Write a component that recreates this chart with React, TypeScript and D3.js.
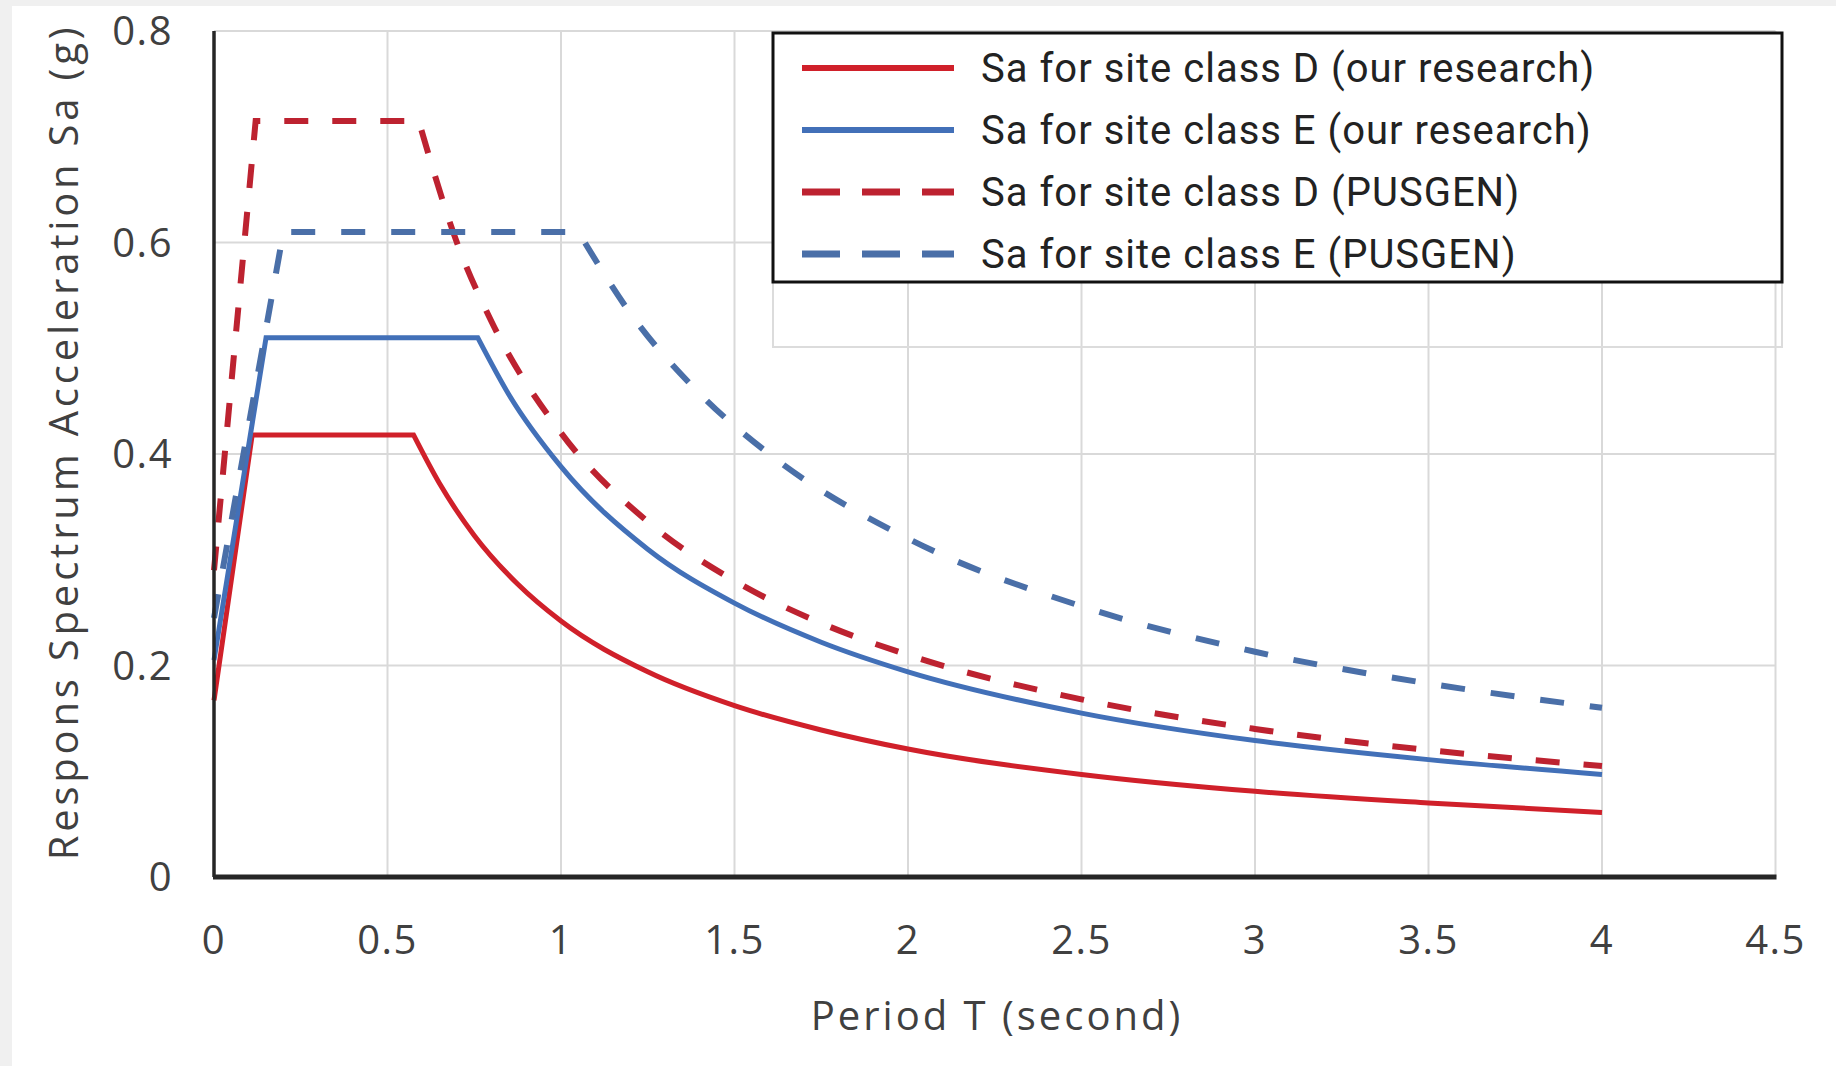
import React from 'react';
import * as d3 from 'd3';

// periods (s) and spectral accelerations (g)
const periodDOur = [0, 0.11, 0.575, 0.65, 0.75, 0.875, 1, 1.25, 1.5, 1.75, 2, 2.5, 3, 3.5, 4];
const saDOur = [0.167, 0.418, 0.418, 0.372, 0.323, 0.277, 0.242, 0.194, 0.162, 0.139, 0.121, 0.097, 0.081, 0.07, 0.061];

const periodEOur = [0, 0.15, 0.76, 0.85, 1, 1.25, 1.5, 1.75, 2, 2.5, 3, 3.5, 4];
const saEOur = [0.205, 0.51, 0.51, 0.456, 0.388, 0.31, 0.259, 0.222, 0.194, 0.155, 0.129, 0.111, 0.097];

const periodDPus = [0, 0.12, 0.59, 0.7, 0.8, 1, 1.25, 1.5, 1.75, 2, 2.5, 3, 3.5, 4];
const saDPus = [0.29, 0.715, 0.715, 0.6, 0.525, 0.42, 0.336, 0.28, 0.24, 0.21, 0.168, 0.14, 0.12, 0.105];

const periodEPus = [0, 0.2, 1.05, 1.2, 1.4, 1.6, 2, 2.5, 3, 3.5, 4];
const saEPus = [0.245, 0.61, 0.61, 0.533, 0.457, 0.4, 0.32, 0.256, 0.213, 0.183, 0.16];

const xTicks = [0, 0.5, 1, 1.5, 2, 2.5, 3, 3.5, 4, 4.5];
const yTicks = [0, 0.2, 0.4, 0.6, 0.8];

const seriesNames = [
  'Sa for site class D (our research)',
  'Sa for site class E (our research)',
  'Sa for site class D (PUSGEN)',
  'Sa for site class E (PUSGEN)',
];

const W = 1836, H = 1066;
const left = 214, right = 1775.5, top = 31, bottom = 877;

const series = [
  { name: seriesNames[0], t: periodDOur, sa: saDOur, color: '#d0202a', dash: null, width: 5 },
  { name: seriesNames[1], t: periodEOur, sa: saEOur, color: '#4270b8', dash: null, width: 5 },
  { name: seriesNames[2], t: periodDPus, sa: saDPus, color: '#bd2230', dash: '24 24', width: 6 },
  { name: seriesNames[3], t: periodEPus, sa: saEPus, color: '#4a6fa8', dash: '24 26', width: 6 },
];

export default function App() {
  const x = d3.scaleLinear().domain([0, 4.5]).range([left, right]);
  const y = d3.scaleLinear().domain([0, 0.8]).range([bottom, top]);

  // ramp + plateau are straight, the descending branch is smooth
  const straight = d3.line<[number, number]>().x(d => x(d[0])).y(d => y(d[1]));
  const smooth = d3.line<[number, number]>().x(d => x(d[0])).y(d => y(d[1])).curve(d3.curveMonotoneX);

  const pathFor = (t: number[], sa: number[]) => {
    const pts = t.map((v, i) => [v, sa[i]] as [number, number]);
    const a = straight(pts.slice(0, 3)) || '';
    const b = (smooth(pts.slice(2)) || '').replace(/^M[^A-Za-z]*/, '');
    return a + b;
  };

  const fmt = (v: number) => (v === 0 ? '0' : String(v));

  // legend placement
  const lg = { x: 773, y: 33, w: 1009, h: 249 };
  const rowY = [68, 130, 192, 254];

  return (
    <div style={{ position: 'fixed', left: 0, top: 0 }}>
      <svg width={W} height={H} style={{ display: 'block' }}>
        <rect x={0} y={0} width={W} height={H} fill="#f0f0f0" />
        <rect x={12} y={6} width={W - 12} height={H - 6} fill="#ffffff" />

        {/* grid */}
        {xTicks.slice(1).map(t => (
          <line key={'gx' + t} x1={x(t)} x2={x(t)} y1={top} y2={bottom} stroke="#d9d9d9" strokeWidth={2} />
        ))}
        {yTicks.slice(1).map(t => (
          <line key={'gy' + t} x1={left} x2={right} y1={y(t)} y2={y(t)} stroke="#d9d9d9" strokeWidth={2} />
        ))}

        {/* faint frame left under the legend */}
        <rect x={lg.x} y={lg.y} width={lg.w} height={314} fill="none" stroke="#dcdcdc" strokeWidth={2} />

        {/* curves */}
        {series.map(s => (
          <path
            key={s.name}
            d={pathFor(s.t, s.sa)}
            fill="none"
            stroke={s.color}
            strokeWidth={s.width}
            strokeDasharray={s.dash || undefined}
            strokeLinejoin="miter"
          />
        ))}

        {/* axes */}
        <line x1={left} x2={left} y1={top} y2={bottom} stroke="#262626" strokeWidth={3.5} />
        <line x1={left - 1} x2={right + 1} y1={bottom} y2={bottom} stroke="#262626" strokeWidth={5} />

        {/* tick labels */}
        <g fontFamily="'Open Sans', sans-serif" fontSize={40} fill="#404040" letterSpacing={1.5}>
          {yTicks.map(t => (
            <text key={'ty' + t} x={173} y={y(t)} dy="0.35em" textAnchor="end">{fmt(t)}</text>
          ))}
          {xTicks.map(t => (
            <text key={'tx' + t} x={x(t)} y={940} dy="0.35em" textAnchor="middle">{fmt(t)}</text>
          ))}
        </g>

        {/* axis titles */}
        <text x={997} y={1016} dy="0.35em" textAnchor="middle" fontFamily="'Open Sans', sans-serif"
          fontSize={40} letterSpacing={3} fill="#404040">
          Period T (second)
        </text>
        <text
          transform={`translate(64,442) rotate(-90)`}
          dy="0.35em"
          textAnchor="middle"
          fontFamily="'Open Sans', sans-serif"
          fontSize={40}
          letterSpacing={3.8}
          fill="#404040"
        >
          Respons Spectrum Acceleration Sa (g)
        </text>

        {/* legend */}
        <rect x={lg.x} y={lg.y} width={lg.w} height={lg.h} fill="#ffffff" stroke="#111" strokeWidth={3} />
        {series.map((s, i) => (
          <g key={'lg' + i}>
            <line
              x1={802}
              x2={954}
              y1={rowY[i]}
              y2={rowY[i]}
              stroke={s.color}
              strokeWidth={s.width + 1}
              strokeDasharray={s.dash ? '38 22' : undefined}
            />
            <text x={981} y={rowY[i]} dy="0.35em" fontFamily="Roboto, sans-serif" fontSize={40}
              letterSpacing={1} fill="#222">
              {s.name}
            </text>
          </g>
        ))}
      </svg>
    </div>
  );
}
